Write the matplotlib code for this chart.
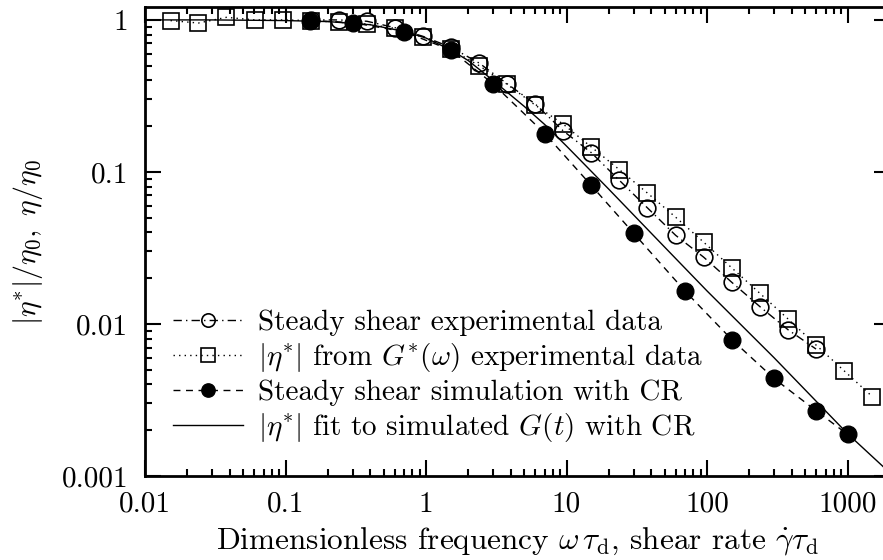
import numpy as np
import matplotlib
matplotlib.use("Agg")
import matplotlib.pyplot as plt
from matplotlib.ticker import FixedLocator, FixedFormatter, LogLocator, NullFormatter

plt.rcParams['font.family'] = ['cmr10', 'DejaVu Serif']
plt.rcParams['mathtext.fontset'] = 'cm'
plt.rcParams['axes.formatter.use_mathtext'] = True

# G*(omega) experimental |eta*| (squares)
sq_x = [0.0152, 0.0240, 0.0380, 0.0602, 0.0953, 0.151, 0.239, 0.379, 0.600, 0.951,
        1.51, 2.39, 3.78, 5.99, 9.49, 15.0, 23.8, 37.7, 59.8, 94.7,
        150, 238, 377, 597, 946, 1500]
sq_y = [0.99, 0.954, 1.04, 1.0, 1.0, 0.99, 0.965, 0.94, 0.88, 0.77,
        0.64, 0.50, 0.377, 0.275, 0.206, 0.146, 0.1035, 0.0726, 0.0504, 0.0345,
        0.0234, 0.0159, 0.0108, 0.00727, 0.00492, 0.00333]

# Steady shear experimental (open circles)
oc_x = [0.151, 0.239, 0.379, 0.600, 0.951, 1.51, 2.39, 3.78, 5.99, 9.49,
        15.0, 23.8, 37.7, 59.8, 94.7, 150, 238, 377, 597]
oc_y = [1.0, 1.0, 0.98, 0.89, 0.78, 0.66, 0.52, 0.38, 0.28, 0.186,
        0.134, 0.088, 0.058, 0.0383, 0.0275, 0.0188, 0.0130, 0.00917, 0.00684]

# Steady shear simulation with CR (filled circles)
sim_x = [0.15, 0.3, 0.7, 1.5, 3, 7, 15, 30, 70, 150, 300, 600, 1000]
sim_y = [0.99, 0.96, 0.836, 0.634, 0.38, 0.179, 0.0816, 0.0396, 0.0164, 0.0079,
         0.00438, 0.00268, 0.00188]

# |eta*| fit to simulated G(t) (solid line)
fit_x = [0.01, 0.03, 0.1, 0.2, 0.4, 0.7, 1, 1.5, 2, 3, 5, 7, 10, 20, 50, 100,
         300, 1000, 2000]
fit_y = [1.0, 1.0, 0.99, 0.975, 0.93, 0.84, 0.76, 0.635, 0.54, 0.40, 0.27, 0.205,
         0.148, 0.077, 0.032, 0.0165, 0.0060, 0.0019, 0.00105]

xticks = [0.01, 0.1, 1, 10, 100, 1000]
xtick_labels = ["0.01", "0.1", "1", "10", "100", "1000"]
yticks = [0.001, 0.01, 0.1, 1]
ytick_labels = ["0.001", "0.01", "0.1", "1"]

W, H = 883, 560
fig = plt.figure(figsize=(W / 100, H / 100), dpi=100)
left, right_px, top_px, bot_px = 145, 889.8, 7, 476
ax = fig.add_axes([left / W, 1 - bot_px / H, (right_px - left) / W, (bot_px - top_px) / H])
ax.set_xscale('log')
ax.set_yscale('log')
ax.set_xlim(0.01, 2000)
ax.set_ylim(0.001, 1.216)

ms = 12
ax.plot(oc_x, oc_y, color='black', lw=1.0, dashes=(6, 3, 1, 3), marker='o',
        ms=ms, mfc='none', mec='black', mew=1.2, label='Steady shear experimental data')
ax.plot(sq_x, sq_y, color='black', lw=1.0, linestyle=(0, (1, 3)), marker='s',
        ms=ms, mfc='none', mec='black', mew=1.2,
        label=r'$|\eta^{*}|$ from $G^{*}(\omega)$ experimental data')
ax.plot(sim_x, sim_y, color='black', lw=1.0, dashes=(5, 4), marker='o',
        ms=ms, mfc='black', mec='black', label='Steady shear simulation with CR')
ax.plot(fit_x, fit_y, color='black', lw=1.0, linestyle='-',
        label=r'$|\eta^{*}|$ fit to simulated $G(t)$ with CR')

for s in ax.spines.values():
    s.set_linewidth(2.0)

ax.xaxis.set_major_locator(FixedLocator(xticks))
ax.xaxis.set_major_formatter(FixedFormatter(xtick_labels))
ax.yaxis.set_major_locator(FixedLocator(yticks))
ax.yaxis.set_major_formatter(FixedFormatter(ytick_labels))
ax.xaxis.set_minor_locator(LogLocator(base=10, subs=np.arange(2, 10), numticks=20))
ax.yaxis.set_minor_locator(LogLocator(base=10, subs=np.arange(2, 10), numticks=20))
ax.xaxis.set_minor_formatter(NullFormatter())
ax.yaxis.set_minor_formatter(NullFormatter())
ax.tick_params(which='both', direction='in', top=True, right=True, labelsize=21, width=1.5)
ax.tick_params(which='major', length=11.5)
ax.tick_params(axis='x', which='major', pad=11)
ax.tick_params(axis='y', which='major', pad=12)
ax.tick_params(which='minor', length=5)

ax.set_xlabel(r'Dimensionless frequency $\omega\,\tau_{\mathrm{d}}$, shear rate $\dot{\gamma}\tau_{\mathrm{d}}$',
              fontsize=22.5, labelpad=5)
ax.set_ylabel(r'$|\eta^{*}|/\eta_{0},\ \eta/\eta_{0}$', fontsize=21.5, labelpad=12)

leg = ax.legend(loc='upper left', bbox_to_anchor=(0.0376, 0.37), frameon=False,
                fontsize=21, handlelength=2.4, handletextpad=0.5, labelspacing=0.18,
                markerscale=0.8, borderaxespad=0, borderpad=0)

# fine placement: first legend text should start at x=258 px and be centred at y=323 px
fig.canvas.draw()
r = fig.canvas.get_renderer()
t0 = leg.get_texts()[0].get_window_extent(r)
target_x, target_y = 258, H - 323
dx = target_x - t0.x0
dy = target_y - (t0.y0 + t0.y1) / 2
axbb = ax.get_window_extent(r)
bx, by = 0.0376 + dx / axbb.width, 0.37 + dy / axbb.height
leg.set_bbox_to_anchor((bx, by), transform=ax.transAxes)

fig.savefig('out.png', dpi=100)
